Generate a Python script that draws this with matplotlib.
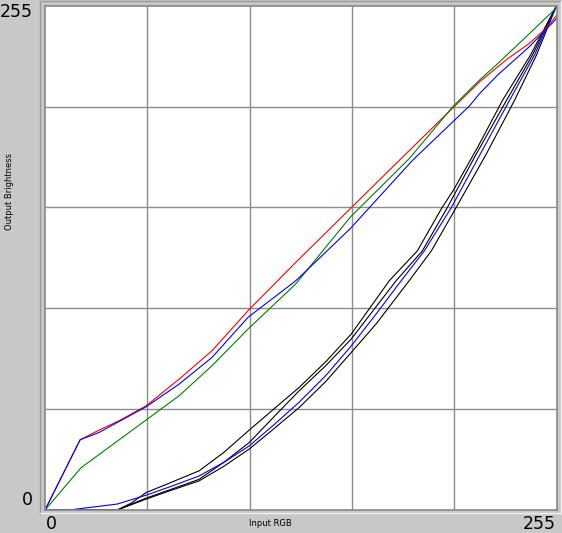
import matplotlib.pyplot as plt
from matplotlib.lines import Line2D

W, H = 562, 533

# upper curves (input -> output brightness)
red_x = [0, 17.5, 26.9, 36.9, 50.4, 66.9, 83.3, 101.3, 125.1, 152.2, 177.5, 203.6, 216.6, 229.9, 241.5, 249.8, 255]
red_y = [0, 35.5, 40.4, 45.1, 52.7, 66.2, 80.6, 100.9, 125.3, 152.4, 177.7, 203.6, 216.5, 227.6, 236, 243.6, 250]

green_x = [0, 18, 50.4, 66.9, 83.3, 101.3, 125.1, 152.2, 181.6, 203.6, 216.6, 224.9, 238.2, 255]
green_y = [0, 21.4, 45.5, 57.8, 73, 91.6, 114.4, 148.1, 177.7, 204.3, 217.4, 225, 237.7, 254]

blue_x = [0, 17.5, 26.9, 50.4, 66.9, 83.3, 101.3, 125.1, 152.2, 183.3, 211.6, 216.6, 225.7, 241.5, 255]
blue_y = [0, 35.5, 39.2, 52.2, 63.7, 77.2, 97.5, 116, 142.3, 176.9, 204.3, 210.5, 220, 234.3, 248.5]

# lower curves
k1_x = [0, 36, 43, 50.4, 63, 76.8, 89, 101.8, 114, 126.7, 140, 152.7, 171.7, 185.6, 198, 203.6, 216, 228, 242, 255]
k1_y = [0, 0, 3.5, 8.8, 14, 19.8, 29, 40.4, 51, 62, 75, 89, 116, 131, 153, 161.7, 184, 207, 230, 255]

k2_x = [0, 36, 50.4, 63, 76.8, 89, 101.8, 114, 126.7, 140, 152.7, 175.1, 188.1, 200.6, 215, 230, 243, 255]
k2_y = [0, 0, 6, 10.5, 15.5, 24, 34.1, 47, 60.3, 73, 86.5, 116, 131, 153, 180, 207, 230, 255]

k3_x = [0, 36, 50.4, 63, 76.8, 89, 101.8, 114, 126.7, 140, 152.7, 165, 181.6, 192.6, 205, 220, 234, 245, 255]
k3_y = [0, 0, 5.5, 10, 14.7, 22, 30.8, 41, 51.8, 65, 79.7, 94, 116, 131, 153, 180, 207, 230, 255]

blue2_x = [0, 12, 24, 36, 50.4, 63, 76.8, 89, 101.8, 114, 126.7, 140, 152.7, 165, 177.6, 189.1, 202.6, 217, 231.5, 244, 255]
blue2_y = [0, 0, 1.5, 3, 7.5, 12, 17.2, 24, 32.4, 43, 54.5, 68, 83, 99, 116, 131, 153, 180, 207, 230, 255]

grid_vals = [51, 102, 153, 204]

fig = plt.figure(figsize=(W / 100, H / 100), dpi=100, facecolor='#c8c8c8')
ax = fig.add_axes([45 / W, 23 / H, 511.5 / W, 504.3 / H])
ax.set_facecolor('white')
ax.set_xlim(0, 255)
ax.set_ylim(0, 255)
ax.set_xticks([])
ax.set_yticks([])
for s in ax.spines.values():
    s.set_color('#888888')
    s.set_linewidth(1.2)

for g in grid_vals:
    ax.axvline(g, color='#8c8c8c', lw=1.0, zorder=0)
    ax.axhline(g, color='#8c8c8c', lw=1.0, zorder=0)

lw = 0.8
ax.plot(k1_x, k1_y, color='black', lw=lw)
ax.plot(k2_x, k2_y, color='black', lw=lw)
ax.plot(k3_x, k3_y, color='black', lw=lw)
ax.plot(blue2_x, blue2_y, color='#0000ff', lw=lw)
ax.plot(red_x, red_y, color='#ff0000', lw=lw)
ax.plot(green_x, green_y, color='#008000', lw=lw)
ax.plot(blue_x, blue_y, color='#0000ff', lw=lw)

# bevel frame around the plot box
def px(x, y):
    return x / W, 1 - y / H

for (x0, y0), (x1, y1), c in [((40, 1), (561, 1), '#9a9a9a'), ((40, 1), (40, 514), '#9a9a9a'),
                              ((40, 513), (561, 513), '#f0f0f0'), ((560.5, 1), (560.5, 514), '#f0f0f0')]:
    a, b = px(x0, y0)
    c2, d = px(x1, y1)
    fig.add_artist(Line2D([a, c2], [b, d], color=c, lw=1.0))

fs = 12.5
fig.text(33 / W, 1 - 12 / H, '255', fontsize=fs, ha='right', va='center')
fig.text(33 / W, 1 - 500 / H, '0', fontsize=fs, ha='right', va='center')
fig.text(46 / W, 1 - 524 / H, '0', fontsize=fs, ha='left', va='center')
fig.text(556 / W, 1 - 524 / H, '255', fontsize=fs, ha='right', va='center')

fig.text(270 / W, 1 - 524 / H, 'Input RGB', fontsize=6, ha='center', va='center')
fig.text(10 / W, 1 - 192 / H, 'Output Brightness', fontsize=6, ha='center', va='center', rotation=90)

fig.savefig('out.png', dpi=100, facecolor=fig.get_facecolor())
